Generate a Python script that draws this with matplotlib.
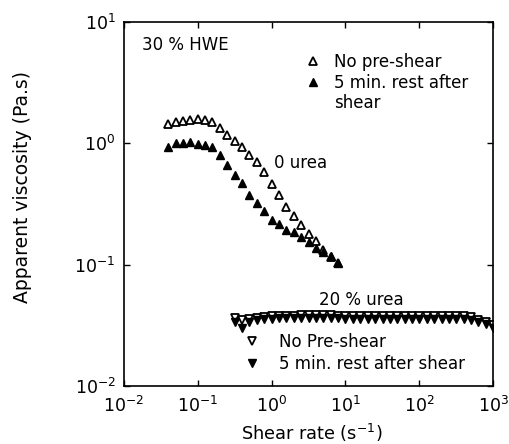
import matplotlib
matplotlib.use("Agg")
import matplotlib.pyplot as plt
from matplotlib.lines import Line2D

plt.rcParams['font.family'] = ['DejaVu Sans']

# 30 % HWE, no urea
shear_rate_0 = [0.04, 0.05, 0.063, 0.079, 0.1, 0.126, 0.158, 0.2, 0.25, 0.32,
                0.4, 0.5, 0.63, 0.79, 1.0, 1.26, 1.58, 2.0, 2.5, 3.2,
                4.0, 5.0, 6.3, 7.9]
visc_0_no_preshear = [1.45, 1.51, 1.53, 1.57, 1.60, 1.55, 1.50, 1.34, 1.18, 1.05,
                      0.935, 0.80, 0.70, 0.58, 0.465, 0.372, 0.298, 0.25, 0.213, 0.178,
                      0.157, 0.132, 0.116, 0.103]
visc_0_rest = [0.94, 1.0, 1.01, 1.02, 0.99, 0.965, 0.935, 0.80, 0.665, 0.545,
               0.475, 0.377, 0.323, 0.278, 0.232, 0.217, 0.192, 0.185, 0.168, 0.153,
               0.136, 0.127, 0.117, 0.104]

# 30 % HWE, 20 % urea
shear_rate_20 = [0.32, 0.4, 0.5, 0.63, 0.79, 1.0, 1.26, 1.58, 2.0, 2.5,
                 3.2, 4.0, 5.0, 6.3, 7.9, 10, 12.6, 15.8, 20, 25,
                 32, 40, 50, 63, 79, 100, 126, 158, 200, 251,
                 316, 398, 501, 631, 794, 1000]
visc_20_no_preshear = [0.0365, 0.0350, 0.0358, 0.0365, 0.0370, 0.0374, 0.0376, 0.0378, 0.0380, 0.0381,
                       0.0382, 0.0383, 0.0383, 0.0382, 0.0380, 0.0378, 0.0377, 0.0376, 0.0376, 0.0375,
                       0.0375, 0.0375, 0.0375, 0.0376, 0.0376, 0.0376, 0.0377, 0.0377, 0.0377, 0.0377,
                       0.0376, 0.0375, 0.0368, 0.0352, 0.0335, 0.0318]
visc_20_rest = [0.0335, 0.0302, 0.0338, 0.0350, 0.0355, 0.0358, 0.0360, 0.0361, 0.0362, 0.0362,
                0.0363, 0.0363, 0.0362, 0.0361, 0.0360, 0.0359, 0.0358, 0.0357, 0.0356, 0.0356,
                0.0356, 0.0356, 0.0356, 0.0356, 0.0356, 0.0356, 0.0356, 0.0356, 0.0356, 0.0356,
                0.0356, 0.0355, 0.0352, 0.0335, 0.0322, 0.0298]

x_ticks = [1e-2, 1e-1, 1e0, 1e1, 1e2, 1e3]
y_ticks = [1e-2, 1e-1, 1e0, 1e1]

fig = plt.figure(figsize=(5.1, 4.44), dpi=100)
ax = fig.add_axes([0.243, 0.131, 0.724, 0.819])

ms = 5.5
open_kw = dict(linestyle='none', markerfacecolor='white', markeredgecolor='black',
               markeredgewidth=1.3, markersize=ms)
fill_kw = dict(linestyle='none', color='black', markersize=ms)

ax.plot(shear_rate_0, visc_0_no_preshear, marker='^', **open_kw)
ax.plot(shear_rate_0, visc_0_rest, marker='^', **fill_kw)
ax.plot(shear_rate_20, visc_20_no_preshear, marker='v', **open_kw)
ax.plot(shear_rate_20, visc_20_rest, marker='v', **fill_kw)

ax.set_xscale('log')
ax.set_yscale('log')
ax.set_xlim(1e-2, 1e3)
ax.set_ylim(1e-2, 1e1)
ax.set_xticks(x_ticks)
ax.set_yticks(y_ticks)
ax.minorticks_off()
ax.tick_params(which='major', direction='in', length=4, width=1,
               top=True, right=True, labelsize=12.5)
ax.tick_params(axis='x', pad=7)
ax.tick_params(axis='y', pad=6)
for s in ax.spines.values():
    s.set_linewidth(1.2)

ax.set_xlabel('Shear rate (s$^{-1}$)', fontsize=12.8)
ax.set_ylabel('Apparent viscosity (Pa.s)', fontsize=13.5)
ax.xaxis.set_label_coords(0.51, -0.10)
ax.yaxis.set_label_coords(-0.25, 0.547)

fs = 12
ax.text(0.049, 0.937, '30 % HWE', transform=ax.transAxes, va='center', fontsize=fs)
ax.text(0.407, 0.613, '0 urea', transform=ax.transAxes, va='center', fontsize=fs)
ax.text(0.528, 0.236, '20 % urea', transform=ax.transAxes, va='center', fontsize=fs)

h1 = [Line2D([], [], marker='^', **open_kw),
      Line2D([], [], marker='^', **fill_kw),
      Line2D([], [], linestyle='none')]
leg1 = ax.legend(h1, ['No pre-shear', '5 min. rest after', 'shear'],
                 loc='upper left', bbox_to_anchor=(0.49, 0.915), frameon=False,
                 fontsize=fs, handlelength=1.0, handletextpad=0.75,
                 borderpad=0, borderaxespad=0, labelspacing=0.15, numpoints=1)
ax.add_artist(leg1)

h2 = [Line2D([], [], marker='v', **open_kw), Line2D([], [], marker='v', **fill_kw)]
ax.legend(h2, ['No Pre-shear', '5 min. rest after shear'],
          loc='upper left', bbox_to_anchor=(0.325, 0.146), frameon=False,
          fontsize=fs, handlelength=1.0, handletextpad=1.1,
          borderpad=0, borderaxespad=0, labelspacing=0.25, numpoints=1)

fig.savefig('out.png', dpi=100)
